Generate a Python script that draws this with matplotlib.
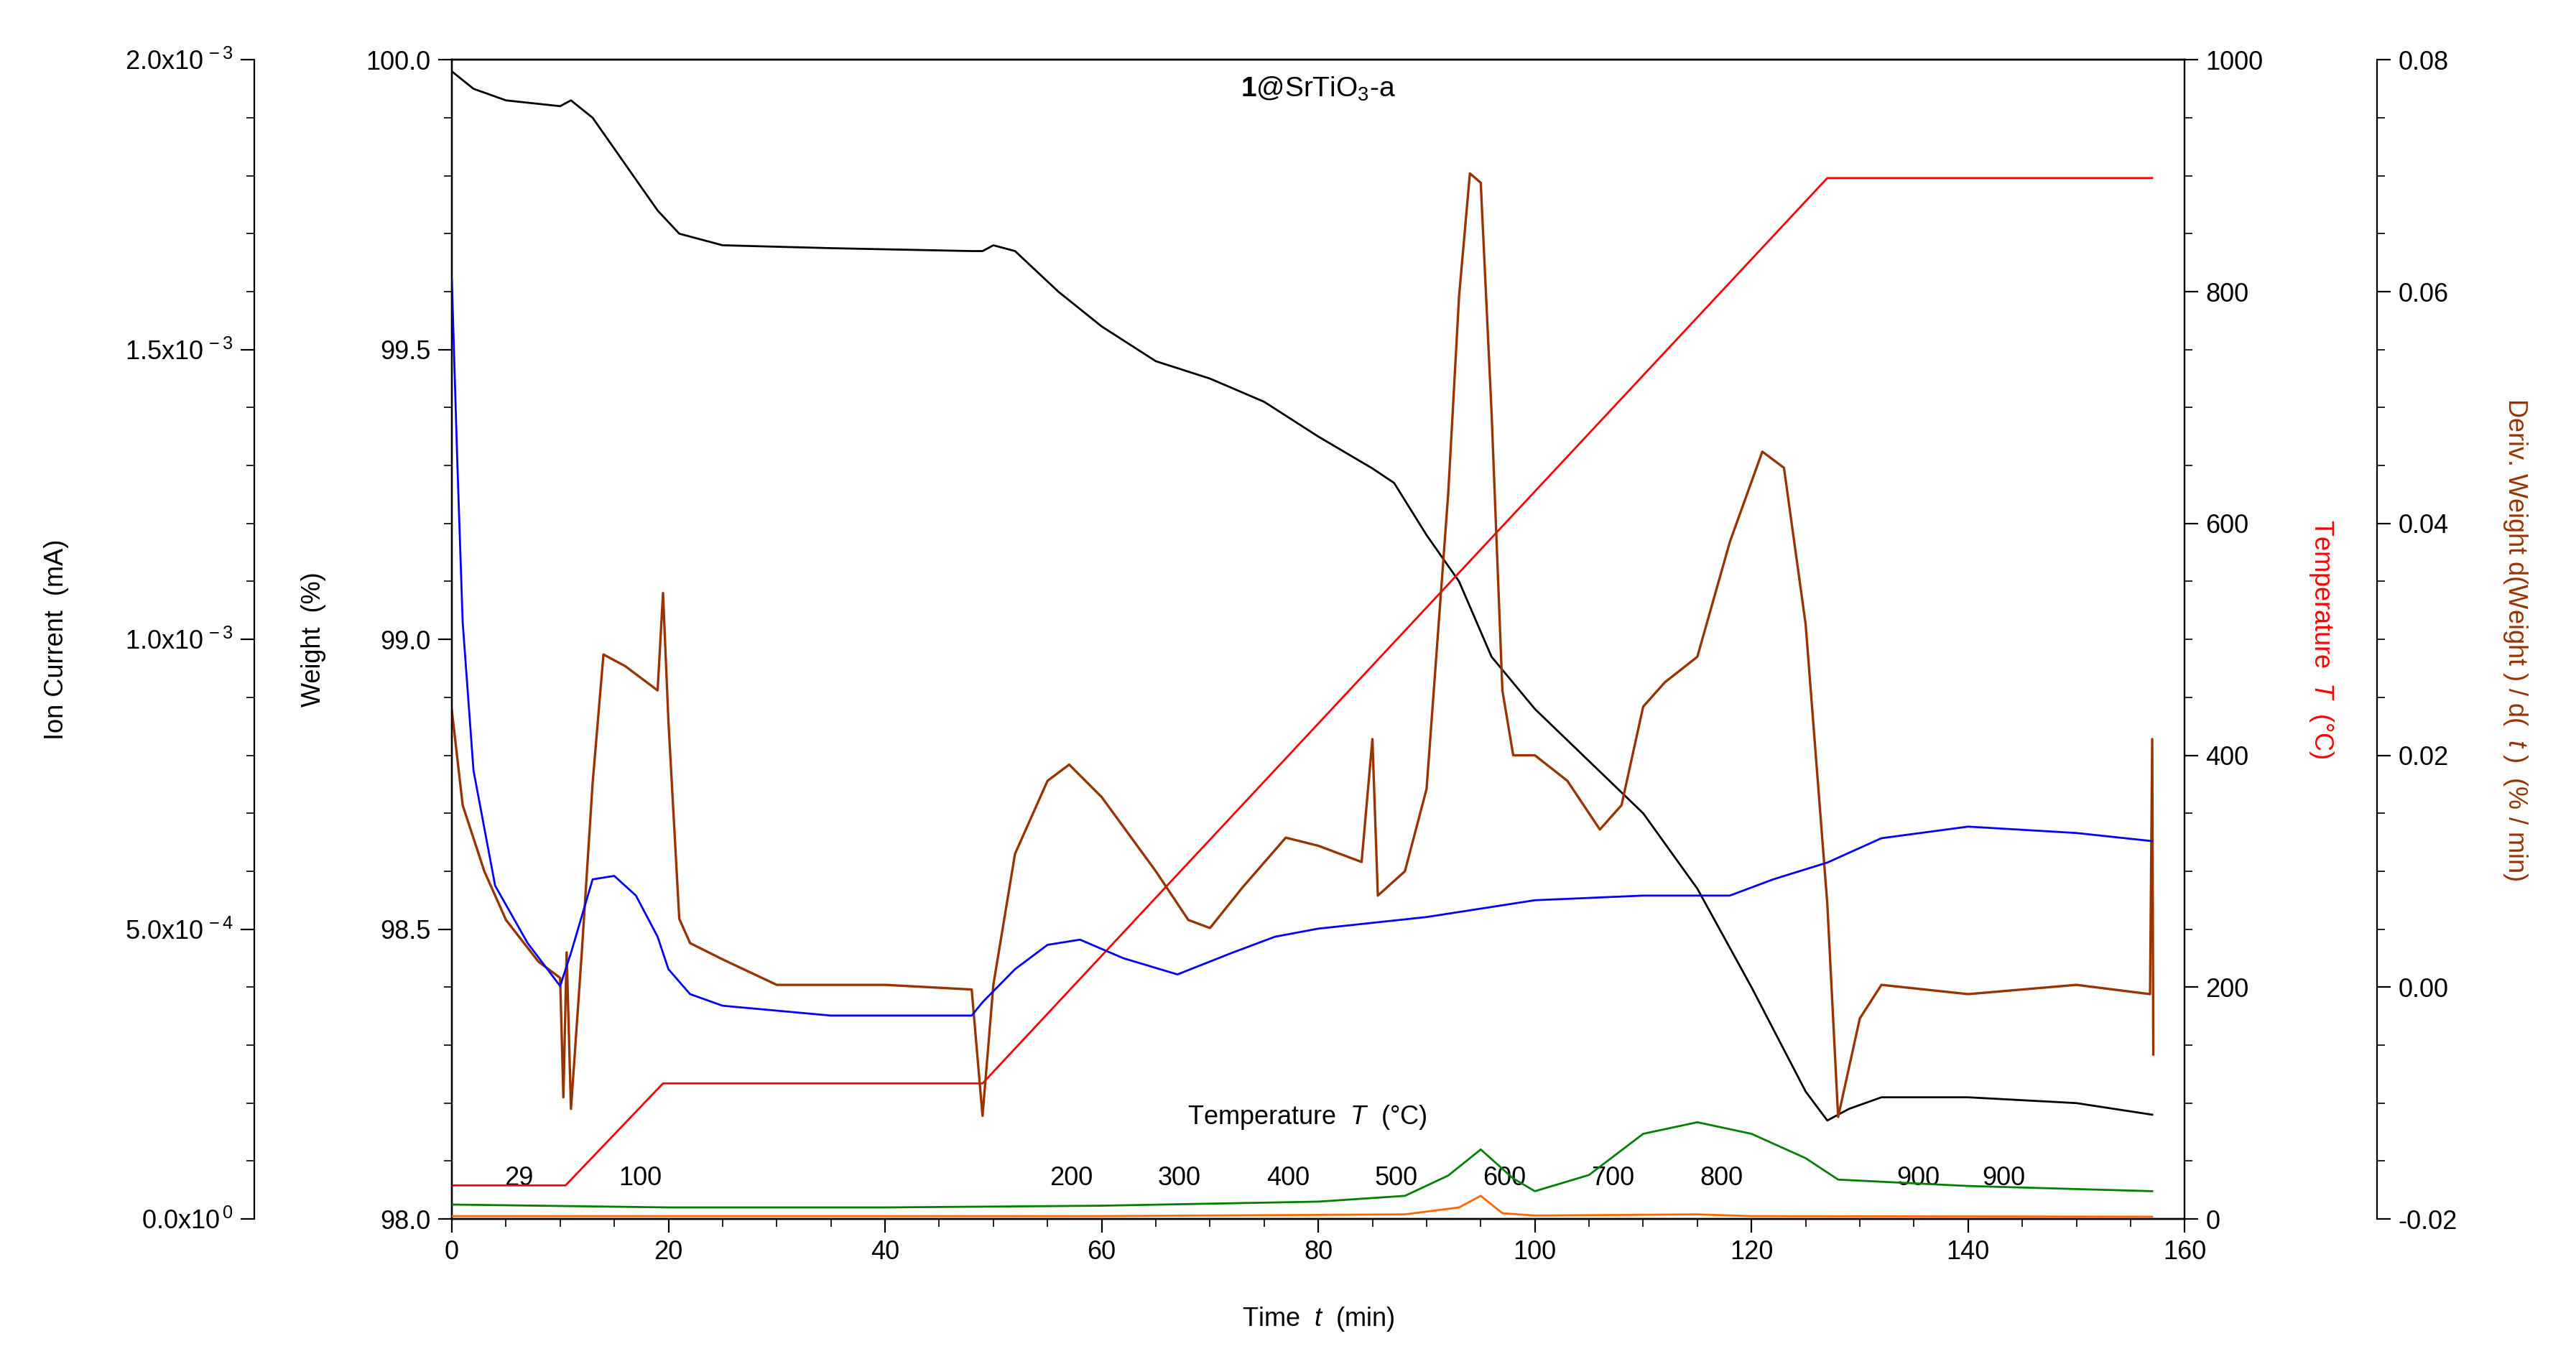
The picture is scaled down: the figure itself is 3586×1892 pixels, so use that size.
import numpy as np
import matplotlib
matplotlib.use("Agg")
import matplotlib.pyplot as plt
from matplotlib.ticker import MultipleLocator, FuncFormatter

plt.rcParams['font.family'] = ['Liberation Sans', 'DejaVu Sans']
plt.rcParams['mathtext.fontset'] = 'custom'
plt.rcParams['mathtext.rm'] = 'Liberation Sans'
plt.rcParams['mathtext.it'] = 'Liberation Sans:italic'
plt.rcParams['mathtext.bf'] = 'Liberation Sans:bold'

# weight (%) vs time (min)
w_t = [0, 2, 5, 10, 11, 13, 16, 19, 21, 25, 35, 48, 49, 50, 52, 56, 60, 65, 70, 75, 80, 85, 87, 90,
       93, 96, 100, 105, 110, 115, 120, 125, 127, 129, 132, 140, 150, 157]
w_v = [99.98, 99.95, 99.93, 99.92, 99.93, 99.90, 99.82, 99.74, 99.70, 99.68, 99.675, 99.67, 99.67,
       99.68, 99.67, 99.60, 99.54, 99.48, 99.45, 99.41, 99.35, 99.295, 99.27, 99.18, 99.10, 98.97,
       98.88, 98.79, 98.70, 98.57, 98.40, 98.22, 98.17, 98.19, 98.21, 98.21, 98.20, 98.18]

# temperature (°C)
T_t = [0, 10.5, 19.5, 49, 127, 157]
T_v = [29, 29, 117, 117, 898, 898]

# derivative weight (%/min)
d_t = [0, 1, 3, 5, 8, 10, 10.3, 10.6, 11, 12, 13, 14, 16, 19, 19.5, 20, 21, 22, 25, 30, 40, 48, 49,
       50, 52, 55, 57, 60, 65, 68, 70, 73, 77, 80, 84, 85, 85.5, 88, 90, 92, 93, 94, 95, 96, 97, 98,
       100, 103, 106, 108, 110, 112, 115, 118, 121, 123, 125, 127, 128, 130, 132, 140, 150, 156.8,
       157, 157.1]
d_v = [0.0239, 0.0157, 0.0100, 0.0058, 0.0022, 0.0008, -0.0095, 0.0030, -0.0105, 0.0030, 0.0176,
       0.0287, 0.0277, 0.0256, 0.0340, 0.0229, 0.0059, 0.0038, 0.0024, 0.0002, 0.0002, -0.0002,
       -0.0111, 0.0002, 0.0115, 0.0178, 0.0192, 0.0164, 0.0100, 0.0058, 0.0051, 0.0086, 0.0129,
       0.0122, 0.0108, 0.0214, 0.0079, 0.0100, 0.0171, 0.0426, 0.0596, 0.0702, 0.0694, 0.0496,
       0.0256, 0.0200, 0.0200, 0.0178, 0.0136, 0.0157, 0.0242, 0.0263, 0.0285, 0.0384, 0.0462,
       0.0448, 0.0313, 0.0072, -0.0112, -0.0027, 0.0002, -0.0006, 0.0002, -0.0006, 0.0214, -0.0058]

# ion currents (mA)
b_t = [0, 0.5, 1, 2, 4, 7, 10, 11, 13, 15, 17, 19, 20, 22, 25, 35, 48, 49, 52, 55, 58, 62, 67, 72,
       76, 80, 90, 100, 110, 118, 122, 127, 132, 140, 150, 157]
b_v = [1.62e-3, 1.31e-3, 1.03e-3, 7.74e-4, 5.75e-4, 4.76e-4, 4.02e-4, 4.59e-4, 5.86e-4, 5.92e-4,
       5.58e-4, 4.87e-4, 4.31e-4, 3.88e-4, 3.68e-4, 3.51e-4, 3.51e-4, 3.74e-4, 4.31e-4, 4.73e-4,
       4.82e-4, 4.50e-4, 4.22e-4, 4.59e-4, 4.87e-4, 5.01e-4, 5.21e-4, 5.50e-4, 5.58e-4, 5.58e-4,
       5.86e-4, 6.15e-4, 6.57e-4, 6.77e-4, 6.66e-4, 6.52e-4]
g_t = [0, 20, 40, 60, 80, 88, 92, 95, 98, 100, 105, 110, 115, 120, 125, 128, 140, 157]
g_v = [2.5e-5, 2.0e-5, 2.0e-5, 2.3e-5, 3.0e-5, 4.0e-5, 7.5e-5, 1.2e-4, 7.0e-5, 4.8e-5, 7.6e-5,
       1.47e-4, 1.67e-4, 1.47e-4, 1.05e-4, 6.8e-5, 5.7e-5, 4.8e-5]
o_t = [0, 60, 88, 93, 95, 97, 100, 115, 120, 157]
o_v = [5e-6, 5e-6, 8e-6, 2.0e-5, 4.0e-5, 1.0e-5, 6e-6, 8e-6, 5e-6, 4e-6]

temp_lbl = ["29", "100", "200", "300", "400", "500", "600", "700", "800", "900", "900"]
temp_lbl_t = [6.2, 17.4, 57.2, 67.2, 77.2, 87.2, 97.2, 107.2, 117.2, 135.4, 143.3]

fig = plt.figure(figsize=(17.93, 9.46), dpi=200)
ax = fig.add_axes([0.1754, 0.103, 0.6727, 0.853])
fs = 13

ax.plot(w_t, w_v, color="black", lw=1.0)
ax.set_xlim(0, 160)
ax.set_ylim(98.0, 100.0)
ax.xaxis.set_major_locator(MultipleLocator(20))
ax.xaxis.set_minor_locator(MultipleLocator(5))
ax.yaxis.set_major_locator(MultipleLocator(0.5))
ax.yaxis.set_minor_locator(MultipleLocator(0.1))
ax.yaxis.set_major_formatter(FuncFormatter(lambda v, p: f"{v:.1f}"))
ax.set_xlabel(r"Time  $\it{t}$  (min)", fontsize=fs, labelpad=20)
ax.set_ylabel("Weight  (%)", fontsize=fs, labelpad=20)
ax.tick_params(labelsize=fs, top=False, right=False)
ax.tick_params(which="major", length=7)
ax.tick_params(which="minor", length=4)

axT = ax.twinx()
axT.plot(T_t, T_v, color="red", lw=1.0)
axT.set_ylim(0, 1000)
axT.yaxis.set_major_locator(MultipleLocator(200))
axT.yaxis.set_minor_locator(MultipleLocator(50))
axT.set_ylabel(r"Temperature  $\it{T}$  (°C)", color="red", fontsize=fs,
               rotation=270, va="bottom", labelpad=22)
axT.tick_params(labelsize=fs)
axT.tick_params(which="major", length=7)
axT.tick_params(which="minor", length=4)

axD = ax.twinx()
axD.spines["right"].set_position(("axes", 1.111))
axD.plot(d_t, d_v, color="#993300", lw=1.2)
axD.set_ylim(-0.02, 0.08)
axD.yaxis.set_major_locator(MultipleLocator(0.02))
axD.yaxis.set_minor_locator(MultipleLocator(0.005))
axD.yaxis.set_major_formatter(FuncFormatter(lambda v, p: f"{v:.2f}"))
axD.set_ylabel(r"Deriv. Weight d(Weight ) / d(  $\it{t}$ )  (% / min)", color="#993300", fontsize=fs,
               rotation=270, va="bottom", labelpad=22)
axD.tick_params(labelsize=fs)
axD.tick_params(which="major", length=7)
axD.tick_params(which="minor", length=4)

axI = ax.twinx()
axI.spines["left"].set_position(("axes", -0.114))
axI.spines["left"].set_visible(True)
axI.spines["right"].set_visible(False)
axI.yaxis.set_label_position("left")
axI.yaxis.set_ticks_position("left")
axI.plot(b_t, b_v, color="blue", lw=1.0)
axI.plot(g_t, g_v, color="green", lw=1.0)
axI.plot(o_t, o_v, color="#ff6600", lw=1.0)
axI.set_ylim(0, 2e-3)
axI.yaxis.set_major_locator(MultipleLocator(5e-4))
axI.yaxis.set_minor_locator(MultipleLocator(1e-4))

def ion_fmt(v, p):
    if abs(v) < 1e-12:
        return r"$0.0\mathrm{x}10^{\,0}$"
    e = int(np.floor(np.log10(abs(v))))
    return r"$%.1f\mathrm{x}10^{\,%d}$" % (v / 10**e, e)

axI.yaxis.set_major_formatter(FuncFormatter(ion_fmt))
axI.set_ylabel("Ion Current  (mA)", fontsize=fs, labelpad=28)
axI.tick_params(labelsize=fs)
axI.tick_params(which="major", length=7)
axI.tick_params(which="minor", length=4)

for lbl, t in zip(temp_lbl, temp_lbl_t):
    ax.text(t, 98.07, lbl, ha="center", va="center", fontsize=fs)
ax.text(79, 98.175, r"Temperature  $\it{T}$  (°C)", ha="center", va="center", fontsize=fs)
ax.text(0.5, 0.975, r"$\mathbf{1}$@SrTiO$_3$-a", transform=ax.transAxes,
        ha="center", va="center", fontsize=fs + 1)

fig.savefig("out.png", dpi=200)
